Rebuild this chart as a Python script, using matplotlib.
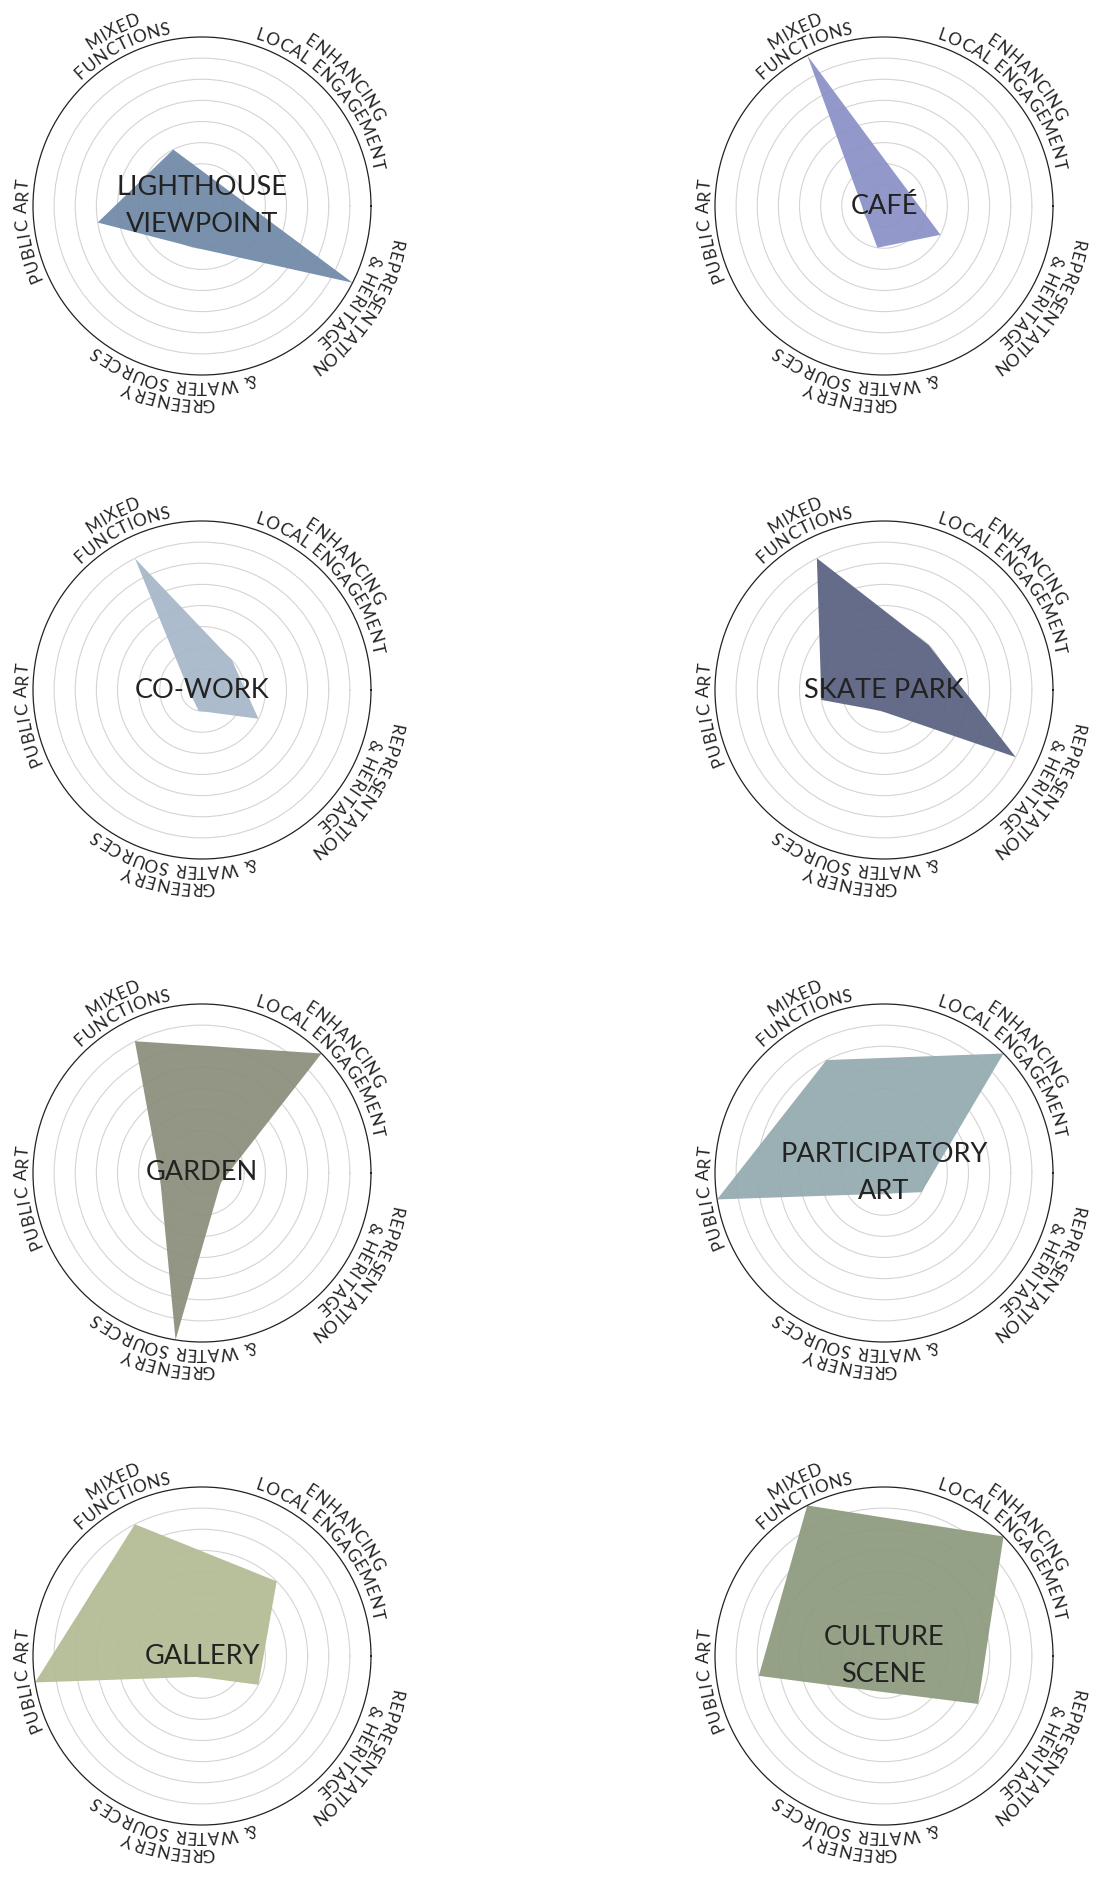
import numpy as np
import matplotlib
matplotlib.use("Agg")
import matplotlib.pyplot as plt
from matplotlib.font_manager import FontProperties, findfont, get_font
from matplotlib.ft2font import Kerning

# ---------------- data ----------------
axis_names = ["MIXED\nFUNCTIONS", "ENHANCING\nLOCAL ENGAGEMENT",
              "REPRESENTATION\n& HERITAGE", "GREENERY\n& WATER SOURCES",
              "PUBLIC ART"]
places = ["LIGHTHOUSE\nVIEWPOINT", "CAFÉ", "CO-WORK", "SKATE PARK",
          "GARDEN", "PARTICIPATORY\nART", "GALLERY", "CULTURE\nSCENE"]
mixed_functions = [3, 8, 7, 7, 7, 6, 7, 8]
local_engagement = [1.35, 1.35, 2, 3, 8, 8, 5, 8]
representation = [8, 3, 3, 7, 1, 2, 3, 5]
greenery = [2, 2, 1, 1, 8, 1, 1, 1.7]
public_art = [5, 1, 0.6, 3, 2, 8, 8, 6]
colors = ["#7089a8", "#8a90c5", "#a6b7c8", "#596180",
          "#8b8e7b", "#94aab0", "#b2bc94", "#8c9a7d"]

# ---------------- layout ----------------
W, H = 1097, 1877
R_PX = 169.0
RMAX = 8
col_x = [202, 884]
row_y = [206, 690, 1173, 1656]
axis_angles = [117, 45, -27, -99, -171]
label_angles = [117, 42, -33, -100, 188]
FONT = ["Lato", "DejaVu Sans"]
LAB_SIZE = 12.3
TRACK = 0.6

fig = plt.figure(figsize=(W / 100, H / 100), dpi=100)
lab_fp = FontProperties(family=FONT, size=LAB_SIZE)
ft = get_font(findfont(FontProperties(family="Lato")))
ft.set_size(LAB_SIZE, 100)


def advances(s):
    out = []
    prev = None
    for ch in s:
        g = ft.load_char(ord(ch))
        adv = g.linearHoriAdvance / 65536.0
        idx = ft.get_char_index(ord(ch))
        kern = 0.0
        if prev is not None:
            kern = ft.get_kerning(prev, idx, Kerning.DEFAULT) / 64.0
        out.append((kern, adv))
        prev = idx
    return out


def curved(ax, s, theta0_deg, r_px):
    adv = advances(s)
    pos = []
    x = 0.0
    for i, (k, a) in enumerate(adv):
        x += k
        pos.append(x + a / 2.0)
        x += a + TRACK
    total = x - TRACK
    px_per_unit = R_PX / RMAX
    for ch, p in zip(s, pos):
        if ch == " ":
            continue
        th = np.deg2rad(theta0_deg) - (p - total / 2.0) / r_px
        ax.text(th, r_px / px_per_unit, ch, rotation=np.rad2deg(th) - 90,
                rotation_mode="anchor", ha="center", va="baseline",
                fontproperties=lab_fp, color="#222222", clip_on=False)


series = list(zip(mixed_functions, local_engagement, representation,
                  greenery, public_art))

for k, (name, vals, col) in enumerate(zip(places, series, colors)):
    cx = col_x[k % 2]
    cy = row_y[k // 2]
    ax = fig.add_axes([(cx - R_PX) / W, 1 - (cy + R_PX) / H,
                       2 * R_PX / W, 2 * R_PX / H], projection="polar")
    th = np.deg2rad(axis_angles + [axis_angles[0]])
    v = list(vals) + [vals[0]]
    ax.fill(th, v, color=col, alpha=0.93, lw=0, zorder=2)
    ax.set_ylim(0, RMAX)
    ax.set_rticks(range(1, RMAX))
    ax.set_yticklabels([])
    ax.set_xticks([])
    ax.xaxis.grid(False)
    ax.yaxis.grid(True, color="#d4d4d4", lw=0.8)
    ax.set_axisbelow(True)
    ax.spines["polar"].set_color("#222222")
    ax.spines["polar"].set_linewidth(0.9)
    ax.patch.set_alpha(0)
    ax.text(0.5, 0.5, name, transform=ax.transAxes, ha="center",
            va="center", fontsize=19.5, family=FONT, color="#222222",
            linespacing=1.6, zorder=5)
    for lab, ang in zip(axis_names, label_angles):
        lines = lab.split("\n")
        if len(lines) == 2:
            curved(ax, lines[0], ang, 192)
            curved(ax, lines[1], ang, 175)
        else:
            curved(ax, lines[0], ang, 175)

fig.savefig("out.png", dpi=100, facecolor="white")
